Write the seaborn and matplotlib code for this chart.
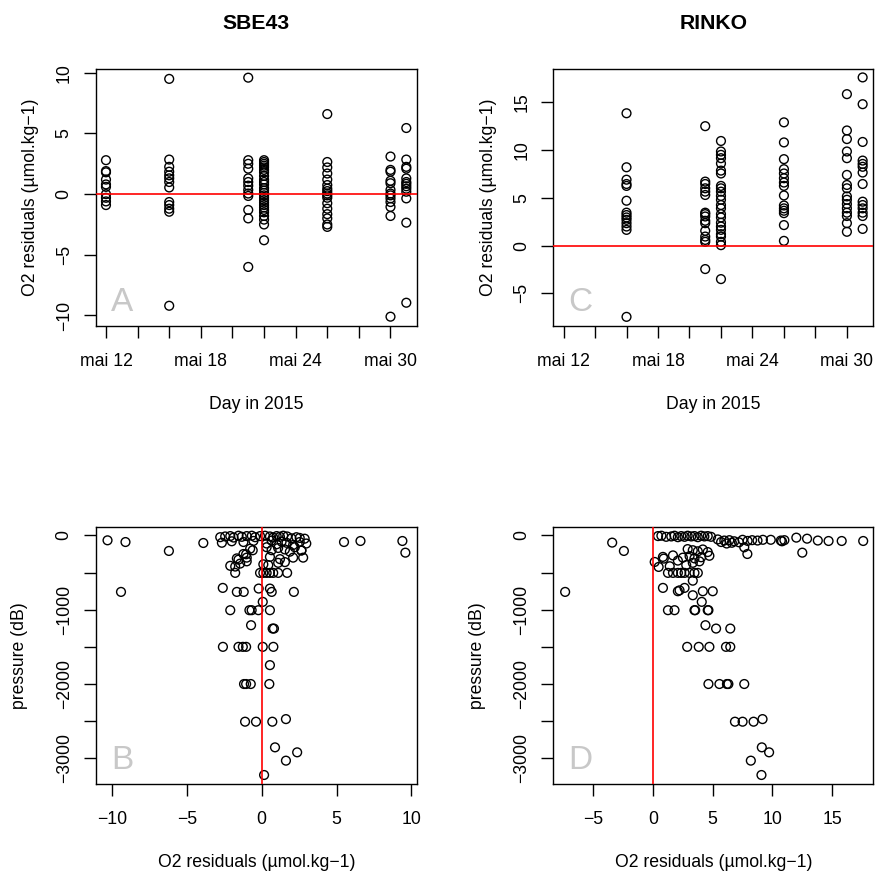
import numpy as np
import pandas as pd
import matplotlib
matplotlib.use("Agg")
import matplotlib.pyplot as plt
import seaborn as sns

# ---------------- data ----------------
year_month = "2015-05-"
sbe_days = [12, 16, 21, 22, 26, 30, 31]
sbe_d12 = [2.8, 1.9, 1.8, 1.2, 0.8, 0.6, 0.0, -0.3, -0.6, -0.9]
sbe_d16 = [9.5, 2.85, 2.25, 1.85, 1.55, 1.3, 1.0, 0.55, -0.65, -0.9, -1.2, -1.45, -9.2]
sbe_d21 = [9.6, 2.8, 2.5, 2.1, 1.3, 1.0, 0.7, 0.35, 0.05, -0.15, -1.3, -2.0, -6.0]
sbe_d22 = [2.8, 2.65, 2.5, 2.35, 2.2, 2.0, 1.8, 1.5, 1.2, 1.0, 0.8, 0.5, 0.3, 0.1,
           -0.1, -0.3, -0.5, -0.7, -0.9, -1.1, -1.3, -1.5, -1.8, -2.1, -2.5, -3.8]
sbe_d26 = [6.6, 2.65, 2.2, 1.7, 1.2, 0.75, 0.45, 0.25, 0.05, -0.1, -0.3, -0.75,
           -1.2, -1.65, -2.0, -2.5, -2.7]
sbe_d30 = [3.1, 2.0, 1.85, 1.1, 0.9, 0.35, 0.05, -0.1, -0.35, -0.65, -1.05, -1.8, -10.1]
sbe_d31 = [5.45, 2.85, 2.25, 2.1, 1.3, 1.0, 0.85, 0.65, 0.45, 0.2, -0.35, -2.35, -8.95]
sbe_by_day = [sbe_d12, sbe_d16, sbe_d21, sbe_d22, sbe_d26, sbe_d30, sbe_d31]

rinko_days = [16, 21, 22, 26, 30, 31]
rinko_d16 = [13.85, 8.2, 6.9, 6.45, 6.25, 4.7, 3.45, 3.2, 2.95, 2.7, 2.35, 2.0, 1.65, -7.45]
rinko_d21 = [12.5, 6.7, 6.45, 6.0, 5.65, 5.3, 3.45, 3.3, 3.05, 2.6, 2.35, 1.55, 0.95,
             0.6, 0.4, -2.45]
rinko_d22 = [10.95, 9.85, 9.5, 9.15, 8.6, 7.85, 7.55, 6.25, 6.0, 5.65, 5.2, 4.8, 4.25,
             3.9, 3.3, 2.95, 2.4, 2.0, 1.65, 1.2, 0.95, 0.4, 0.05, -3.5]
rinko_d26 = [12.9, 10.8, 9.05, 8.0, 7.55, 7.05, 6.6, 6.25, 5.25, 4.2, 3.9, 3.65, 3.4, 2.15, 0.5]
rinko_d30 = [15.85, 12.05, 11.15, 9.85, 9.15, 7.4, 6.35, 6.0, 5.15, 4.8, 4.35, 3.9, 3.45,
             3.1, 2.35, 1.45]
rinko_d31 = [17.6, 14.8, 10.85, 8.9, 8.55, 8.25, 7.65, 6.45, 4.6, 4.25, 3.9, 3.45, 3.1, 1.75]
rinko_by_day = [rinko_d16, rinko_d21, rinko_d22, rinko_d26, rinko_d30, rinko_d31]

# SBE43 residual vs pressure
sbe_res_p = [-2.77, -2.44, -2.1, -1.88, -1.55, -1.33, -1.0, -0.66, -0.44, -0.11, 0.22,
             0.55, 0.77, 1.0, 1.22, 1.44, 1.70, 1.99, 2.32, 2.54, 2.87,
             -2.66, -2.0, -1.22, -0.55, 0.33, 0.66, 1.0, 1.33, 1.66, 2.1, 2.54, 2.98,
             -0.77, 0.33, 0.66, 1.1, 1.55, 1.88, 2.21, 2.65,
             -1.22, -1.04, -0.6, -1.55, 2.66, 2.77,
             -1.66, -1.0, 0.55, 1.22, 2.1,
             -2.1, -1.77, -1.44, -1.0, 0.11, 0.44, 1.1, 1.55,
             -1.77, -0.11, 0.11, 0.33, 0.55, 0.77, 1.1, 1.7,
             -9.4, -2.6, -1.66, -1.2, -0.2, 0.55, 0.67, 2.15,
             0.07, -2.1, -0.82, -0.67, -0.22, 0.55,
             -0.71, 0.73, 0.82,
             -2.59, -1.55, -1.26, -1.04, 0.07, 0.78,
             0.55, -1.18, -1.04, -0.73, 0.51,
             -1.11, -0.38, 0.71, 1.62,
             0.89, 2.37, 1.62, 0.16,
             -10.3, -9.1, -6.2, -3.9, 5.5, 6.6, 9.4, 9.6]
sbe_pres = [-25, -15, -10, -30, -5, -20, -10, -5, -25, -10, -5,
            -15, -30, -10, -20, -5, -15, -40, -25, -35, -45,
            -100, -80, -90, -75, -110, -70, -120, -85, -100, -130, -90, -110,
            -180, -160, -200, -170, -190, -220, -160, -205,
            -251, -255, -201, -327, -201, -300,
            -310, -300, -290, -320, -300,
            -410, -420, -380, -350, -390, -400, -370, -360,
            -505, -505, -505, -505, -505, -505, -505, -505,
            -761, -707, -761, -761, -716, -716, -761, -761,
            -895, -1007, -1007, -1007, -1007, -1007,
            -1209, -1254, -1254,
            -1500, -1500, -1500, -1500, -1500, -1500,
            -1746, -2000, -2000, -2000, -2000,
            -2507, -2507, -2507, -2472,
            -2852, -2919, -3031, -3224,
            -67, -90, -210, -103, -90, -76, -76, -233]

# RINKO residual vs pressure
rinko_res_p = [0.42, 0.7, 1.1, 1.53, 1.8, 2.08, 2.36, 2.64, 2.9, 3.2, 3.47, 3.75, 4.03,
               4.3, 4.58, 4.86,
               5.42, 5.7, 5.97, 6.17, 6.39, 6.6, 6.8,
               7.2, 7.64, 7.9,
               2.9, 3.33, 3.75, 4.17, 4.58,
               0.83, 1.67, 2.5, 3.06, 3.47, 4.03, 4.72,
               0.14, 0.47, 0.9, 1.4, 2.08, 2.78, 3.33, 3.89,
               1.25, 1.67, 2.08, 2.36, 2.64, 3.06, 3.47, 3.75,
               3.33,
               0.83, 2.08, 2.22, 2.64, 3.33, 4.17, 5.0,
               -7.36, -3.42, -2.44,
               4.08,
               1.25, 1.8, 3.47, 3.53, 4.58, 4.64,
               4.39, 5.28, 6.47,
               2.86, 3.83, 4.72, 6.11, 6.47,
               4.64, 5.56, 6.19, 6.31, 7.64,
               6.86, 7.5, 8.42, 9.17,
               9.11, 9.72, 8.19, 9.08,
               7.5, 7.92, 8.3, 8.75, 9.2, 9.86, 10.7, 10.8, 11.0, 12.0, 12.9,
               13.8, 14.7, 15.8, 17.6, 12.5]
rinko_pres = [-10, -5, -20, -15, -5, -25, -10, -20, -5, -15, -10, -25, -5,
              -15, -10, -20,
              -55, -90, -70, -110, -65, -100, -80,
              -94, -161, -251,
              -185, -200, -215, -190, -225,
              -290, -270, -300, -280, -310, -295, -275,
              -358, -425, -313, -416, -340, -400, -370, -350,
              -505, -505, -505, -505, -505, -505, -505, -505,
              -610,
              -707, -752, -740, -707, -806, -752, -752,
              -761, -98, -210,
              -895,
              -1007, -1007, -1007, -1007, -1007, -1007,
              -1209, -1254, -1254,
              -1500, -1500, -1500, -1500, -1500,
              -2000, -2000, -2000, -2000, -2000,
              -2507, -2507, -2507, -2472,
              -2852, -2919, -3031, -3224,
              -60, -75, -65, -70, -60, -60, -70, -80, -65, -31, -45,
              -70, -76, -76, -76, -233]

titles = ["SBE43", "RINKO"]
panel_letters = ["A", "B", "C", "D"]
resid_label = "O2 residuals (\u00b5mol.kg\u22121)"
date_label = "Day in 2015"
pres_label = "pressure (dB)"


def by_day_frame(days, lists):
    rows = []
    for d, vals in zip(days, lists):
        for v in vals:
            rows.append((pd.Timestamp(year_month + f"{d:02d}"), v))
    return pd.DataFrame(rows, columns=["date", "resid"])


df_a = by_day_frame(sbe_days, sbe_by_day)
df_c = by_day_frame(rinko_days, rinko_by_day)
df_b = pd.DataFrame({"resid": sbe_res_p, "pressure": sbe_pres})
df_d = pd.DataFrame({"resid": rinko_res_p, "pressure": rinko_pres})

# ---------------- style ----------------
sns.set_theme(style="white")
plt.rcParams["font.family"] = ["Liberation Sans", "DejaVu Sans"]
plt.rcParams["axes.unicode_minus"] = True
for key in ["text.color", "axes.labelcolor", "xtick.color", "ytick.color",
            "axes.edgecolor", "axes.titlecolor"]:
    plt.rcParams[key] = "black"
FS = 12.7

fig = plt.figure(figsize=(8.78, 8.75), dpi=100)
ax_a = fig.add_axes([0.1090, 0.6274, 0.3660, 0.2934])
ax_c = fig.add_axes([0.6302, 0.6274, 0.3645, 0.2934])
ax_b = fig.add_axes([0.1090, 0.1040, 0.3660, 0.2937])
ax_d = fig.add_axes([0.6302, 0.1040, 0.3645, 0.2937])

scat_kw = dict(marker="o", s=40, facecolor="none", edgecolor="black", linewidth=1.0)


def style(ax, letter):
    for sp in ax.spines.values():
        sp.set_visible(True)
        sp.set_color("black")
        sp.set_linewidth(1.0)
    ax.tick_params(axis="both", which="both", direction="out", length=8.6, width=1.0,
                   color="black", labelsize=FS, labelcolor="black",
                   bottom=True, left=True, top=False, right=False)
    ax.tick_params(axis="x", pad=11)
    ax.tick_params(axis="y", pad=8)
    for lab in ax.get_yticklabels():
        lab.set_rotation(90)
        lab.set_va("center")
    ax.grid(False)
    ax.set_facecolor("white")
    ax.text(0.047, 0.058, letter, transform=ax.transAxes, fontsize=24,
            color="#c8c8c8", ha="left", va="baseline")


# time panels
day0 = pd.Timestamp("2015-05-12")
xt = [day0 + pd.Timedelta(days=k) for k in range(0, 20, 2)]
xtl = [f"mai {t.day}" if (t.day - 12) % 6 == 0 else "" for t in xt]
xlim_t = (day0 - pd.Timedelta(days=0.65), day0 + pd.Timedelta(days=19.68))

for ax, df, ticks, ylim, title, letter in [
    (ax_a, df_a, [-10, -5, 0, 5, 10], (-10.87, 10.29), titles[0], panel_letters[0]),
    (ax_c, df_c, [-5, 0, 5, 10, 15], (-8.41, 18.45), titles[1], panel_letters[2]),
]:
    sns.scatterplot(data=df, x="date", y="resid", ax=ax, **scat_kw)
    ax.axhline(0, color="red", linewidth=1.2, zorder=3)
    ax.set_xlim(*xlim_t)
    ax.set_ylim(*ylim)
    ax.set_xticks(xt)
    ax.set_xticklabels(xtl)
    ax.set_yticks(ticks)
    ax.set_yticklabels([f"{t}".replace("-", "\u2212") for t in ticks])
    ax.set_xlabel(date_label, fontsize=FS)
    ax.set_ylabel(resid_label, fontsize=FS)
    ax.xaxis.set_label_coords(0.5, -0.272)
    ax.yaxis.set_label_coords(-0.175, 0.5)
    ax.set_title(title, fontsize=15.2, fontweight="bold", pad=29, color="black")
    style(ax, letter)

# pressure panels
pt = list(range(0, -3001, -500))
ptl = [f"{p}".replace("-", "\u2212") if p % 1000 == 0 else "" for p in pt]
for ax, df, ticks, xlim, letter in [
    (ax_b, df_b, [-10, -5, 0, 5, 10], (-11.09, 10.38), panel_letters[1]),
    (ax_d, df_d, [-5, 0, 5, 10, 15], (-8.35, 18.45), panel_letters[3]),
]:
    sns.scatterplot(data=df, x="resid", y="pressure", ax=ax, **scat_kw)
    ax.axvline(0, color="red", linewidth=1.2, zorder=3)
    ax.set_xlim(*xlim)
    ax.set_ylim(-3345, 112)
    ax.set_xticks(ticks)
    ax.set_xticklabels([f"{t}".replace("-", "\u2212") for t in ticks])
    ax.set_yticks(pt)
    ax.set_yticklabels(ptl)
    ax.set_xlabel(resid_label, fontsize=FS)
    ax.set_ylabel(pres_label, fontsize=FS)
    ax.xaxis.set_label_coords(0.5, -0.272)
    ax.yaxis.set_label_coords(-0.21, 0.5)
    style(ax, letter)

fig.savefig("out.png", dpi=100, facecolor="white")
